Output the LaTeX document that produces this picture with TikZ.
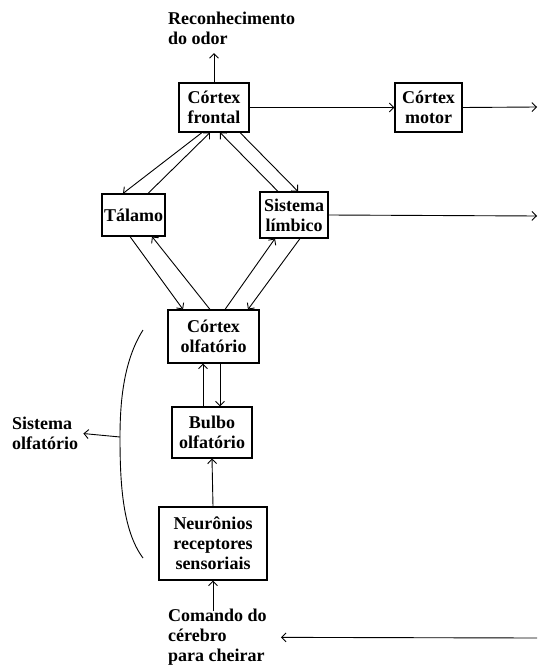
\documentclass[tikz,border=0pt]{standalone}
\usepackage{fontspec}
\setmainfont{Liberation Serif}
\usetikzlibrary{arrows.meta}
\begin{document}
\begin{tikzpicture}[x=1pt,y=-1pt,
  every node/.style={font=\fontsize{18}{20}\selectfont\bfseries},
  box/.style={draw,line width=1.1pt,inner sep=0pt,align=center},
  lbl/.style={inner sep=0pt,align=left},
  arr/.style={line width=0.9pt,-{Straight Barb[length=4.5pt,width=9pt]}}]
\useasboundingbox (0,0) rectangle (538,668);
% boxes
\node[box,minimum width=70pt,minimum height=49pt] (fr) at (214,107.5) {Córtex\\frontal};
\node[box,minimum width=67pt,minimum height=49pt] (mo) at (428.5,107.5) {Córtex\\motor};
\node[box,minimum width=63pt,minimum height=42pt] (ta) at (133.5,215) {Tálamo};
\node[box,minimum width=68pt,minimum height=46pt] (li) at (294,215) {Sistema\\límbico};
\node[box,minimum width=91pt,minimum height=53pt] (ol) at (213.5,336.5) {Córtex\\olfatório};
\node[box,minimum width=80pt,minimum height=51pt] (bu) at (212,432.5) {Bulbo\\olfatório};
\node[box,minimum width=108pt,minimum height=73pt] (ne) at (213,543.5) {Neurônios\\receptores\\sensoriais};
% labels
\node[lbl,anchor=north west] (rec) at (168,12) {Reconhecimento\\do odor};
\node[lbl,anchor=north west] (so) at (12,417) {Sistema\\olfatório};
\node[lbl,anchor=north west] (cmd) at (168,609) {Comando do\\cérebro\\para cheirar};
% free ends
\coordinate (o1) at (537,107);
\coordinate (o2) at (537,216);
\coordinate (i3) at (537,638);
\coordinate (br) at (120,437);
% connectors
\draw[arr] (fr.north) -- ([yshift=-8pt]rec.south -| fr.north);
\draw[arr] (fr.east) -- (mo.west);
\draw[arr] (mo.east) -- (o1);
\draw[arr] (li.east) -- (o2);
\draw[arr] ([xshift=-12pt]fr.south) -- ([xshift=-10.5pt]ta.north);
\draw[arr] ([xshift=14.5pt]ta.north) -- ([xshift=-4pt]fr.south);
\draw[arr] ([xshift=-16pt]li.north) -- ([xshift=6pt]fr.south);
\draw[arr] ([xshift=26pt]fr.south) -- ([xshift=4pt]li.north);
\draw[arr] ([xshift=-3.5pt]ta.south) -- ([xshift=-30.5pt]ol.north);
\draw[arr] ([xshift=-3.5pt]ol.north) -- ([xshift=18.5pt]ta.south);
\draw[arr] ([xshift=11.5pt]ol.north) -- ([xshift=-19pt]li.south);
\draw[arr] ([xshift=6pt]li.south) -- ([xshift=34.5pt]ol.north);
\draw[arr] ([xshift=-9pt]bu.north) -- ([xshift=-10.5pt]ol.south);
\draw[arr] ([xshift=6.5pt]ol.south) -- ([xshift=8pt]bu.north);
\draw[arr] (ne.north) -- (bu.south);
\draw[arr] ([yshift=-2pt]cmd.north -| ne.south) -- (ne.south);
\draw[arr] (i3) -- ([xshift=14pt]cmd.east);
% bracket
\draw[line width=0.9pt] (143,330) .. controls (124,360) and (120,400) .. (br)
  .. controls (120,480) and (122,530) .. (143,558);
\draw[arr] (br) -- ([xshift=5pt]so.east);
\end{tikzpicture}
\end{document}
